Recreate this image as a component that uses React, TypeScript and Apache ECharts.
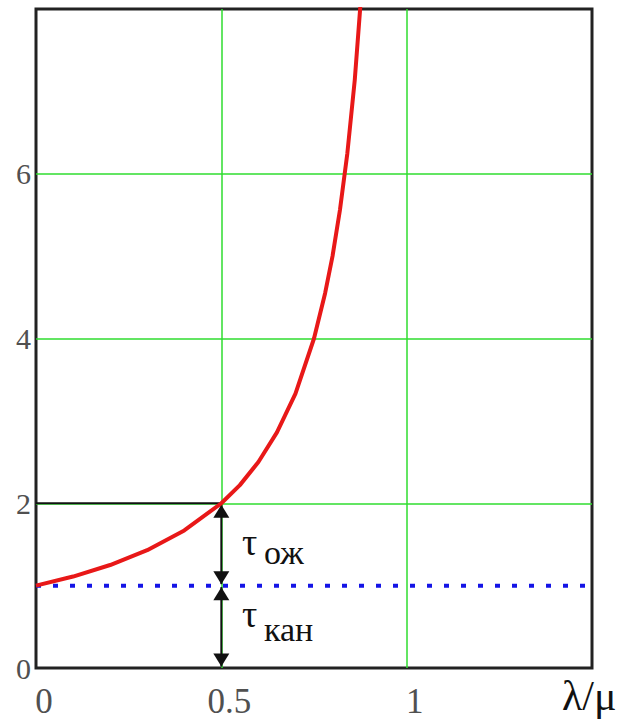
import React, { useEffect, useRef } from "react";
import * as echarts from "echarts";

// load factor ρ = λ/μ and relative time in system
const rhoValues = [0, 0.1, 0.2, 0.3, 0.4, 0.5, 0.55, 0.6, 0.65, 0.7, 0.75, 0.78, 0.8, 0.82, 0.84, 0.86, 0.88];
const tauValues = [1, 1.11, 1.25, 1.43, 1.67, 2, 2.22, 2.5, 2.86, 3.33, 4, 4.55, 5, 5.56, 6.25, 7.14, 8.33];

// channel time level (blue dotted line)
const channelLevelX = [0, 1.5];
const channelLevelY = [1, 1];

// marker at ρ = 0.5
const markerX = [0, 0.5];
const markerY = [2, 2];

// double arrows: [x, yFrom, yTo]
const arrowSegments = [
  [0.5, 1, 2],
  [0.5, 0, 1],
];

const xTicks = ["0", "0.5", "1", ""];
const yTicks = ["0", "2", "4", "6"];
const xAxisName = "λ/μ";

const labelFont = "Liberation Serif";

export default function App() {
  const ref = useRef<HTMLDivElement>(null);

  useEffect(() => {
    if (!ref.current) return;
    const chart = echarts.init(ref.current, null, { renderer: "svg" });

    const option: any = {
      animation: false,
      backgroundColor: "#ffffff",
      textStyle: { fontFamily: labelFont },
      grid: {
        left: 36,
        right: 37,
        top: 9,
        bottom: 59,
        show: true,
        borderColor: "#222222",
        borderWidth: 3,
        backgroundColor: "transparent",
      },
      xAxis: {
        type: "value",
        min: 0,
        max: 1.5,
        interval: 0.5,
        axisLine: { show: false },
        axisTick: { show: false },
        splitLine: {
          show: true,
          showMinLine: false,
          showMaxLine: false,
          lineStyle: { color: "#2fdc2f", width: 1.5 },
        },
        axisLabel: {
          showMinLabel: true,
          margin: 16,
          fontFamily: labelFont,
          fontSize: 35,
          color: "#505050",
          padding: [0, 0, 0, 16],
          formatter: (v: number) => xTicks[Math.round(v / 0.5)] ?? "",
        },
      },
      yAxis: {
        type: "value",
        min: 0,
        max: 8,
        interval: 2,
        axisLine: { show: false },
        axisTick: { show: false },
        splitLine: {
          show: true,
          showMinLine: false,
          showMaxLine: false,
          lineStyle: { color: "#2fdc2f", width: 1.5 },
        },
        axisLabel: {
          showMaxLabel: false,
          margin: 5,
          fontFamily: labelFont,
          fontSize: 30,
          color: "#505050",
          padding: [14, 0, 0, 0],
          formatter: (v: number) => yTicks[Math.round(v / 2)] ?? "",
        },
      },
      series: [
        {
          type: "line",
          data: channelLevelX.map((x, i) => [x, channelLevelY[i]]),
          showSymbol: false,
          lineStyle: { color: "#1414e6", width: 4, type: [5, 12] },
          z: 3,
        },
        {
          type: "line",
          data: markerX.map((x, i) => [x, markerY[i]]),
          showSymbol: false,
          lineStyle: { color: "#111111", width: 2 },
          z: 3,
        },
        {
          type: "custom",
          data: arrowSegments,
          z: 4,
          renderItem: (params: any, api: any) => {
            const x = api.value(0);
            const y0 = api.value(1);
            const y1 = api.value(2);
            const pLow = api.coord([x, y0]);
            const pHigh = api.coord([x, y1]);
            const hw = 8;
            const h = 13;
            const gap = 1.5;
            const topTip = pHigh[1] + gap;
            const botTip = pLow[1] - gap;
            return {
              type: "group",
              children: [
                {
                  type: "line",
                  shape: { x1: pLow[0], y1: botTip, x2: pHigh[0], y2: topTip },
                  style: { stroke: "#111111", lineWidth: 2 },
                },
                {
                  type: "polygon",
                  shape: {
                    points: [
                      [pHigh[0], topTip],
                      [pHigh[0] - hw, topTip + h],
                      [pHigh[0] + hw, topTip + h],
                    ],
                  },
                  style: { fill: "#111111" },
                },
                {
                  type: "polygon",
                  shape: {
                    points: [
                      [pLow[0], botTip],
                      [pLow[0] - hw, botTip - h],
                      [pLow[0] + hw, botTip - h],
                    ],
                  },
                  style: { fill: "#111111" },
                },
              ],
            };
          },
        },
        {
          type: "line",
          data: rhoValues.map((x, i) => [x, tauValues[i]]),
          smooth: false,
          showSymbol: false,
          clip: true,
          lineStyle: { color: "#e81818", width: 4, join: "round" },
          z: 5,
        },
      ],
      graphic: [
        {
          type: "text",
          left: 242,
          top: 523,
          style: { text: "τ", font: "38px Liberation Serif", fill: "#111111" },
        },
        {
          type: "text",
          left: 264,
          top: 535,
          style: { text: "ож", font: "34px Liberation Serif", fill: "#111111" },
        },
        {
          type: "text",
          left: 242,
          top: 595,
          style: { text: "τ", font: "38px Liberation Serif", fill: "#111111" },
        },
        {
          type: "text",
          left: 264,
          top: 612,
          style: { text: "кан", font: "34px Liberation Serif", fill: "#111111" },
        },
        {
          type: "text",
          left: 562,
          top: 675,
          style: { text: xAxisName, font: "42px Liberation Serif", fill: "#111111" },
        },
      ],
    };

    chart.setOption(option);
    return () => chart.dispose();
  }, []);

  return (
    <div
      ref={ref}
      style={{ position: "fixed", left: 0, top: 0, width: 629, height: 727 }}
    />
  );
}
